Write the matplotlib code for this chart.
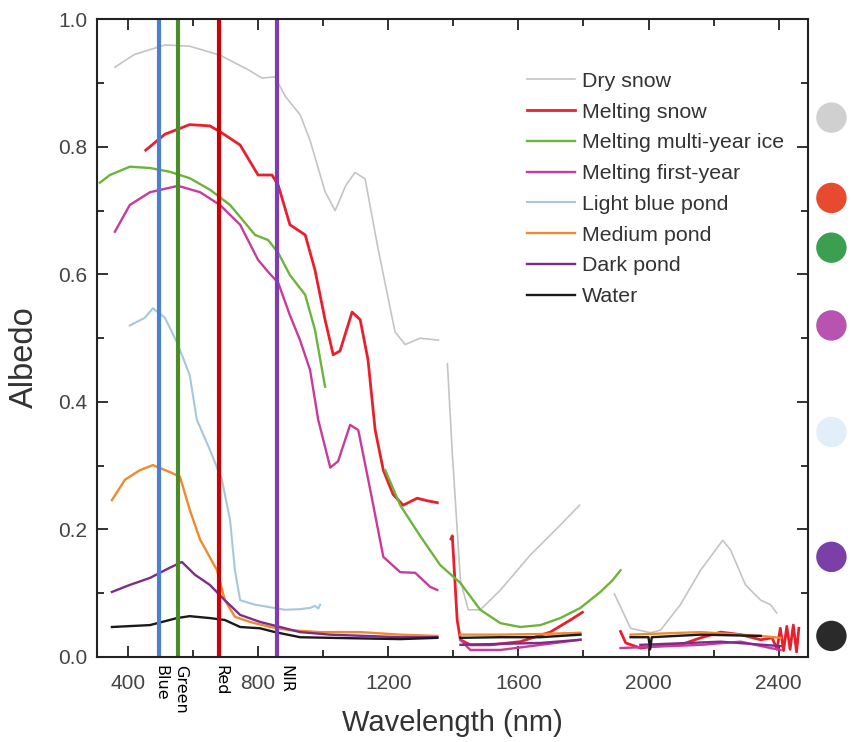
import numpy as np
import matplotlib
matplotlib.use("Agg")
import matplotlib.pyplot as plt
from matplotlib.ticker import MultipleLocator

plt.rcParams['font.family'] = ['Liberation Sans', 'DejaVu Sans']

nan = np.nan

# albedo spectra (nan = gap between instrument segments)
dry_snow_wl = [360, 420, 514, 590, 683, 770, 812, 852, 883, 930, 960, 1006, 1037, 1070, 1098, 1129, 1169, 1221, 1252, 1298, 1354,
               nan, 1382, 1397, 1422, 1446, 1483, 1545, 1637, 1729, 1788,
               nan, 1895, 1945, 2006, 2037, 2098, 2160, 2228, 2252, 2298, 2345, 2375, 2394]
dry_snow = [0.925, 0.945, 0.96, 0.958, 0.944, 0.921, 0.908, 0.91, 0.88, 0.85, 0.81, 0.73, 0.70, 0.74, 0.76, 0.75, 0.64, 0.51, 0.49, 0.50, 0.497,
            nan, 0.46, 0.32, 0.12, 0.074, 0.074, 0.105, 0.16, 0.207, 0.238,
            nan, 0.099, 0.045, 0.038, 0.042, 0.082, 0.136, 0.183, 0.168, 0.113, 0.089, 0.082, 0.069]

melt_snow_wl = [455, 514, 590, 652, 683, 745, 800, 843, 862, 898, 945, 975, 1006, 1031, 1052, 1089, 1114, 1138, 1160, 1185, 1215, 1246, 1289, 1320, 1351,
                nan, 1393, 1397, 1405, 1412, 1422, 1452, 1514, 1606, 1698, 1760, 1797,
                nan, 1914, 1930, 1975, 2040, 2098, 2160, 2222, 2283, 2345, 2380, 2395, 2405, 2415, 2425, 2435, 2445, 2455, 2462]
melt_snow = [0.795, 0.82, 0.835, 0.833, 0.824, 0.803, 0.756, 0.756, 0.74, 0.678, 0.662, 0.607, 0.529, 0.474, 0.48, 0.541, 0.529, 0.466, 0.356, 0.293, 0.255, 0.238, 0.249, 0.245, 0.242,
             nan, 0.185, 0.19, 0.12, 0.058, 0.027, 0.019, 0.019, 0.024, 0.039, 0.058, 0.07,
             nan, 0.04, 0.022, 0.014, 0.018, 0.019, 0.03, 0.039, 0.035, 0.027, 0.03, 0.012, 0.045, 0.01, 0.048, 0.012, 0.05, 0.008, 0.045]

multi_year_wl = [314, 345, 406, 468, 529, 590, 652, 714, 791, 831, 862, 898, 945, 975, 1006,
                 nan, 1191, 1237, 1298, 1360, 1422, 1483, 1545, 1606, 1668, 1729, 1791, 1852, 1889, 1914]
multi_year = [0.744, 0.756, 0.769, 0.767, 0.761, 0.751, 0.733, 0.709, 0.662, 0.654, 0.634, 0.599, 0.568, 0.513, 0.424,
              nan, 0.293, 0.238, 0.19, 0.144, 0.116, 0.074, 0.053, 0.047, 0.05, 0.061, 0.077, 0.102, 0.12, 0.136]

first_year_wl = [360, 406, 468, 554, 622, 683, 745, 800, 831, 862, 898, 929, 960, 985, 1022, 1046, 1083, 1108, 1145, 1185, 1237, 1283, 1329, 1351,
                 nan, 1422, 1452, 1545, 1668, 1791,
                 nan, 1914, 2160, 2283, 2375, 2406]
first_year = [0.667, 0.709, 0.729, 0.739, 0.729, 0.709, 0.678, 0.623, 0.604, 0.587, 0.536, 0.497, 0.45, 0.372, 0.297, 0.307, 0.364, 0.356, 0.262, 0.157, 0.133, 0.132, 0.11, 0.105,
              nan, 0.027, 0.011, 0.011, 0.019, 0.027,
              nan, 0.014, 0.019, 0.024, 0.014, 0.011]

light_blue_wl = [406, 452, 477, 514, 554, 590, 612, 652, 689, 714, 729, 745, 791, 837, 883, 929, 960, 975, 985, 991]
light_blue = [0.52, 0.532, 0.547, 0.532, 0.49, 0.442, 0.372, 0.325, 0.278, 0.215, 0.136, 0.089, 0.082, 0.078, 0.074, 0.075, 0.077, 0.08, 0.076, 0.082]

medium_wl = [351, 391, 437, 477, 529, 560, 590, 622, 674, 698, 729, 775, 837, 898, 991, 1114, 1237, 1351,
             nan, 1422, 1545, 1668, 1791,
             nan, 1945, 2160, 2345, 2406]
medium = [0.246, 0.278, 0.293, 0.301, 0.29, 0.283, 0.231, 0.184, 0.136, 0.089, 0.063, 0.055, 0.047, 0.042, 0.039, 0.039, 0.035, 0.033,
          nan, 0.035, 0.035, 0.036, 0.038,
          nan, 0.035, 0.039, 0.033, 0.03]

dark_wl = [351, 406, 468, 529, 566, 606, 652, 698, 745, 806, 868, 929, 1022, 1237, 1351,
           nan, 1422, 1668, 1791,
           nan, 1975, 2222, 2406]
dark = [0.102, 0.113, 0.124, 0.14, 0.149, 0.129, 0.113, 0.089, 0.066, 0.055, 0.047, 0.039, 0.035, 0.031, 0.031,
        nan, 0.019, 0.022, 0.027,
        nan, 0.019, 0.024, 0.017]

water_wl = [351, 468, 551, 590, 652, 698, 745, 806, 852, 929, 1022, 1237, 1351,
            nan, 1422, 1545, 1668, 1791,
            nan, 1945, 2000, 2005, 2010, 2160, 2345]
water = [0.047, 0.05, 0.061, 0.064, 0.061, 0.058, 0.047, 0.045, 0.039, 0.031, 0.03, 0.028, 0.03,
         nan, 0.03, 0.031, 0.031, 0.035,
         nan, 0.031, 0.031, 0.012, 0.031, 0.035, 0.033]

series = [
    ("Dry snow", dry_snow_wl, dry_snow, "#c4c4c4", 1.2),
    ("Melting snow", melt_snow_wl, melt_snow, "#e8202e", 2.0),
    ("Melting multi-year ice", multi_year_wl, multi_year, "#6cb43a", 1.7),
    ("Melting first-year", first_year_wl, first_year, "#c93a9a", 1.7),
    ("Light blue pond", light_blue_wl, light_blue, "#a5c8dc", 1.5),
    ("Medium pond", medium_wl, medium, "#f08a2c", 1.7),
    ("Dark pond", dark_wl, dark, "#7e2c8a", 1.7),
    ("Water", water_wl, water, "#1a1a1a", 1.7),
]

band_names = ["Blue", "Green", "Red", "NIR"]
band_wl = [496, 555, 680, 858]
band_colors = ["#4a7fd4", "#4a8c2a", "#cc0000", "#7d3cb5"]
band_label_shift = [4, 6, 6, 28]   # nm, nudges the rotated labels off their lines

# swatches to the right of the plot
swatch_colors = ["#d0d0d0", "#e84a30", "#3aa050", "#b854b0", "#e2eef8", "#7a40a8", "#2a2a2a"]
swatch_y = [0.846, 0.72, 0.642, 0.52, 0.353, 0.157, 0.033]

fig = plt.figure(figsize=(8.52, 7.42), dpi=100)
ax = fig.add_axes([0.1138, 0.1146, 0.8345, 0.8592])

for name, wl, val, col, lw in series:
    ax.plot(wl, val, color=col, lw=lw, label=name)

for wl, col in zip(band_wl, band_colors):
    ax.axvline(wl, color=col, lw=3)

ax.set_xlim(305, 2490)
ax.set_ylim(0, 1.0)
ax.xaxis.set_major_locator(MultipleLocator(400))
ax.xaxis.set_minor_locator(MultipleLocator(200))
ax.yaxis.set_major_locator(MultipleLocator(0.2))
ax.yaxis.set_minor_locator(MultipleLocator(0.1))
ax.tick_params(which='both', direction='in', top=True, right=True, width=1.3, colors='#222222',
               labelcolor='#444444', labelsize=15)
ax.tick_params(which='major', length=8)
ax.tick_params(which='minor', length=5)
ax.tick_params(axis='x', which='major', pad=12)
ax.tick_params(axis='y', which='major', pad=7)
ax.yaxis.set_major_formatter(plt.FormatStrFormatter('%.1f'))
for sp in ax.spines.values():
    sp.set_linewidth(1.5)
    sp.set_color('#222222')

ax.set_xlabel("Wavelength (nm)", fontsize=21, color='#333333', labelpad=12)
ax.set_ylabel("Albedo", fontsize=23.5, color='#333333')
ax.yaxis.set_label_coords(-0.08, 0.47)

for name, wl, dx in zip(band_names, band_wl, band_label_shift):
    ax.text(wl + dx, -0.012, name, rotation=-90, ha='center', va='top', fontsize=11.5,
            family='DejaVu Sans', transform=ax.get_xaxis_transform(), clip_on=False)

leg = ax.legend(loc='upper left', bbox_to_anchor=(0.578, 0.948), frameon=False, fontsize=15.4,
                handlelength=2.25, handletextpad=0.33, labelspacing=0.55)
for t in leg.get_texts():
    t.set_color('#333333')

ax.scatter([1.033] * len(swatch_y), swatch_y, s=480, c=swatch_colors, transform=ax.transAxes,
           clip_on=False, zorder=5, edgecolors='none')

fig.savefig("out.png", dpi=100)
